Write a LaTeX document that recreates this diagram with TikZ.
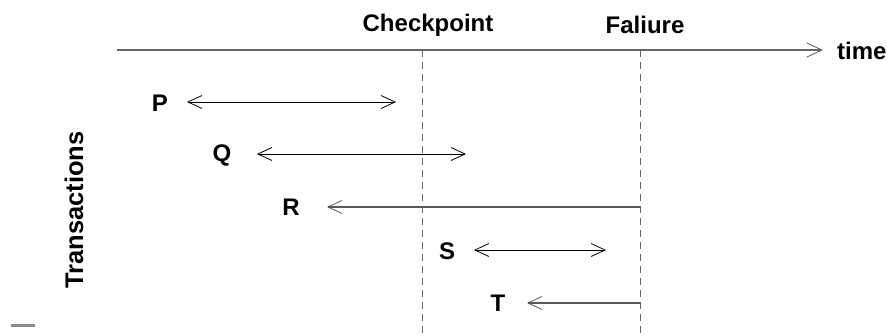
\documentclass[tikz,border=0pt]{standalone}
\usepackage{fontspec}
\setmainfont{Liberation Sans}
\usetikzlibrary{arrows.meta}
\begin{document}
\begin{tikzpicture}[x=1pt,y=-1pt,
  >={Straight Barb[length=14pt,width=13pt,line width=0.8pt]},
  lbl/.style={font=\fontsize{24}{28}\selectfont\bfseries, inner sep=0pt},
  span/.style={line width=1pt, black},
  back/.style={line width=1.3pt, black!65},
  guide/.style={line width=1pt, black!60, dash pattern=on 7pt off 5pt}]
\useasboundingbox (0,0) rectangle (893,335);
% axis
\coordinate (a0) at (117,50);
\coordinate (a1) at (823,50);
\draw[line width=1.5pt, black!60, -{Straight Barb[length=15pt,width=14pt,line width=0.9pt]}] (a0) -- (a1);
\node[lbl, anchor=west] (time) at (837,51) {time};
\node[lbl] (ck) at (428,25) {Checkpoint};
\node[lbl] (fl) at (645,25) {Faliure};
% guides
\coordinate (c0) at (422,50); \coordinate (c1) at (422,335);
\coordinate (f0) at (640,50); \coordinate (f1) at (640,335);
\draw[guide] (c0) -- (c1);
\draw[guide] (f0) -- (f1);
% transactions
\node[lbl] (P) at (160,103) {P};
\coordinate (p0) at (187,102); \coordinate (p1) at (396,102);
\draw[span, <->] (p0) -- (p1);
\node[lbl] (Q) at (222,155) {Q};
\coordinate (q0) at (257,154); \coordinate (q1) at (466,154);
\draw[span, <->] (q0) -- (q1);
\node[lbl] (R) at (291,207) {R};
\coordinate (r0) at (327,207); \coordinate (r1) at (640,207);
\draw[back, <-] (r0) -- (r1);
\node[lbl] (S) at (447,251) {S};
\coordinate (s0) at (474,250); \coordinate (s1) at (606,250);
\draw[span, <->] (s0) -- (s1);
\node[lbl] (T) at (498,303) {T};
\coordinate (t0) at (527,303); \coordinate (t1) at (640,303);
\draw[back, <-] (t0) -- (t1);
\node[lbl, font=\fontsize{25.5}{30}\selectfont\bfseries, rotate=90] (tr) at (74,210) {Transactions};
% stray mark
\coordinate (m0) at (11,325); \coordinate (m1) at (35,325);
\draw[line width=3pt, black!45] (m0) -- (m1);
\end{tikzpicture}
\end{document}
